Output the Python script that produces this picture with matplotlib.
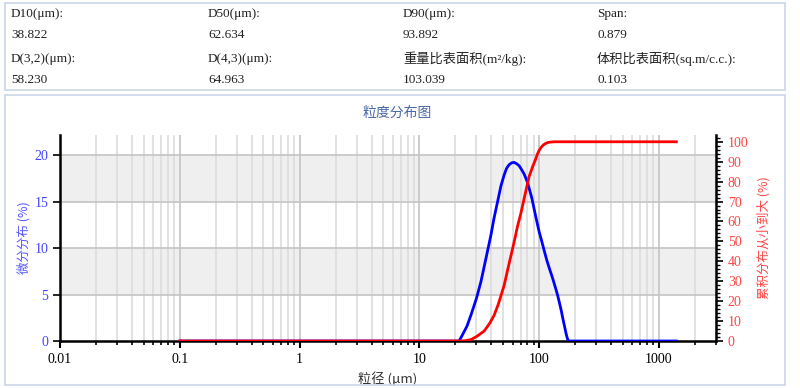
import matplotlib
matplotlib.use("Agg")
import matplotlib.pyplot as plt
from matplotlib.patches import Rectangle
from matplotlib.ticker import LogLocator, MultipleLocator, NullFormatter

plt.rcParams['font.family'] = ['Liberation Serif', 'Noto Sans CJK SC', 'DejaVu Sans']
CJK = ['Noto Sans CJK SC', 'DejaVu Sans']

# header values
hdr_labels = [["D10(μm):", "D50(μm):", "D90(μm):", "Span:"],
              ["D(3,2)(μm):", "D(4,3)(μm):", "重量比表面积(m²/kg):", "体积比表面积(sq.m/c.c.):"]]
hdr_values = [["38.822", "62.634", "93.892", "0.879"],
              ["58.230", "64.963", "103.039", "0.103"]]

# differential distribution (blue), size in um -> %
diff_size = [0.1, 1, 10, 20, 21.5, 23, 25, 27.0, 30, 32.7, 36, 39.6, 42, 45.0, 48, 51.1,
             53.5, 56.2, 59, 61.9, 65, 68, 70.4, 75, 80, 87, 93.8, 100, 105, 110, 116,
             122, 128, 133, 138, 143, 148, 153, 158, 163, 168, 172, 175.5,
             200, 500, 1000, 1400]
diff_val = [0, 0, 0, 0, 0, 0.7, 1.6, 2.8, 4.6, 6.4, 8.9, 11.4, 13.2, 15.0, 16.7, 17.9,
            18.6, 19.0, 19.2, 19.25, 19.1, 18.9, 18.6, 18.0, 17.1, 15.4, 13.4, 11.8, 10.8, 9.8, 8.7,
            7.8, 7.0, 6.3, 5.6, 4.9, 4.1, 3.3, 2.4, 1.6, 0.8, 0.3, 0,
            0, 0, 0, 0]

# cumulative distribution (red)
cum_size = [0.1, 1, 10, 22, 24.5, 27.0, 30, 34.8, 38.8, 42.2, 46, 51.1, 55, 59.9, 62.6,
            66, 70.4, 76, 82.5, 89, 93.9, 96.8, 100, 104, 108, 113, 118, 125, 135, 150,
            200, 500, 1000, 1400]
cum_val = [0, 0, 0, 0, 0.2, 0.7, 2.2, 5.0, 9.0, 13.0, 19.0, 28.0, 36.5, 46.0, 51.0,
           57.5, 64.0, 73.0, 82.5, 88.0, 91.5, 93.8, 95.6, 97.2, 98.3, 99.1, 99.6, 99.85, 100, 100,
           100, 100, 100, 100]

fig = plt.figure(figsize=(8, 3.88), dpi=100)

# boxes
border = '#c9d5e8'
fig.add_artist(Rectangle((5/800, 1-90/388), 780/800, 87/388, transform=fig.transFigure,
                         fill=False, edgecolor=border, lw=1.2))
fig.add_artist(Rectangle((5/800, 1-385/388), 780/800, 290/388, transform=fig.transFigure,
                         fill=False, edgecolor=border, lw=1.2))

cols = [11, 208, 403, 597]
rows = [14, 59]
for r in range(2):
    for c in range(4):
        fig.text(cols[c]/800, 1-rows[r]/388, hdr_labels[r][c], fontsize=9.5,
                 family=['Liberation Serif', 'Noto Sans CJK SC'], va='center', ha='left', color='#222222')
        fig.text(cols[c]/800, 1-(rows[r]+21)/388, hdr_values[r][c], fontsize=9.5,
                 family=['Liberation Serif', 'Noto Sans CJK SC'], va='center', ha='left', color='#222222')

fig.text(397/800, 1-113/388, "粒度分布图", fontsize=10, family=CJK, color='#4a68a6',
         ha='center', va='center')

ax = fig.add_axes([60/800, 1-341/388, 656/800, 206/388])
ax.set_xscale('log')
ax.set_xlim(0.01, 3000)
ax.set_ylim(0, 22.2)

ax.axhspan(5, 10, color='#efefef', zorder=0, lw=0)
ax.axhspan(15, 20, color='#efefef', zorder=0, lw=0)
for y in [5, 10, 15, 20]:
    ax.axhline(y, color='#c4c4c4', lw=1.2, zorder=1)

ax.xaxis.set_minor_locator(LogLocator(base=10, subs=range(2, 10), numticks=20))
ax.xaxis.set_minor_formatter(NullFormatter())
ax.set_xticks([0.01, 0.1, 1, 10, 100, 1000])
ax.set_xticklabels(["0.01", "0.1", "1", "10", "100", "1000"])
ax.grid(True, which='minor', axis='x', color='#dedede', lw=1.3, zorder=1)
ax.grid(True, which='major', axis='x', color='#c8c8c8', lw=1.3, zorder=1)
ax.set_axisbelow(True)

ax.plot(diff_size, diff_val, color='#0000ff', lw=2, zorder=3, solid_joinstyle='round')

ax.yaxis.set_major_locator(MultipleLocator(5))
ax.tick_params(axis='y', colors='black', labelcolor='#4444ff', labelsize=10, length=5, width=1.2)
ax.tick_params(axis='x', which='major', labelsize=10, length=5, width=1.5)
ax.tick_params(axis='x', which='minor', length=3, width=1.2)
for s in ['left', 'bottom']:
    ax.spines[s].set_linewidth(1.8)
ax.spines['top'].set_visible(False)
ax.spines['right'].set_visible(False)

ax.set_xlabel("粒径 (μm)", family=CJK, fontsize=9.5, color='#333333', labelpad=4)
ax.set_ylabel("微分分布 (%)", family=CJK, fontsize=9, color='#5555ff', labelpad=3)

ax2 = ax.twinx()
ax2.set_ylim(0, 103.4)
ax2.plot(cum_size, cum_val, color='#ff0000', lw=2, zorder=3, solid_joinstyle='round')
ax2.yaxis.set_major_locator(MultipleLocator(10))
ax2.yaxis.set_minor_locator(MultipleLocator(2))
ax2.tick_params(axis='y', which='major', labelcolor='#ff4444', labelsize=10, length=5, width=1.2)
ax2.tick_params(axis='y', which='minor', length=3, width=1)
ax2.spines['right'].set_linewidth(1.8)
ax2.spines['top'].set_visible(False)
ax2.spines['left'].set_visible(False)
ax2.spines['bottom'].set_visible(False)
ax2.set_ylabel("累积分布从小到大 (%)", family=CJK, fontsize=9, color='#ff4444', labelpad=6)

fig.savefig("out.png", dpi=100)
